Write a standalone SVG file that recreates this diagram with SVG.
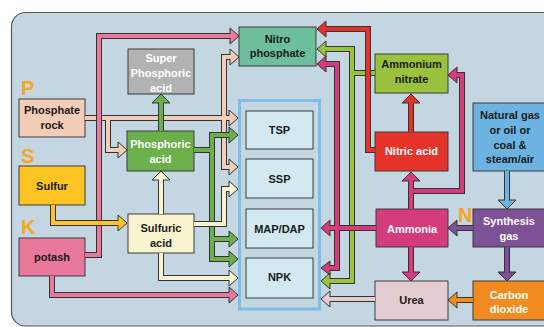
<svg xmlns="http://www.w3.org/2000/svg" xmlns:xlink="http://www.w3.org/1999/xlink" width="544" height="327" viewBox="0 0 544 327">
<style>
text{font-family:"Liberation Sans",Arial,sans-serif;font-weight:bold;font-size:11px;text-anchor:middle;fill:#1a1a1a}
text.w{fill:#ffffff}
text.lab{font-size:20px;fill:#f6a623;text-anchor:start}
.box{stroke:#3a3a3a;stroke-width:1}
.o{fill:none;stroke:#333;stroke-width:6;stroke-linejoin:miter}
.c{fill:none;stroke-width:4;stroke-linejoin:miter}
.h{stroke:#333;stroke-width:1;stroke-linejoin:miter}
</style>
<defs>
<path id="pk" d="M85,255 H99 V36 H234 M52,276 V295 H233"/>
<path id="pe" d="M85,118 H233 M108,118 V150 H122 M234,57 H224 V167 H233"/>
<path id="ye" d="M53,205 V223 H122"/>
<path id="gr" d="M161,131 V99 M194,150 H212 M233,135 H212 V259 H233 M212,239 H233"/>
<path id="cr" d="M161,214 V176 M194,224 H224 V189 H233 M161,253 V278 H233"/>
<path id="li" d="M375,73 H352 M322,49 H352 V281 H326"/>
<path id="rd" d="M411,132 V99 M375,150 H368 V29 H322"/>
<path id="mg" d="M411,209 V177 M411,191 H462 V75 H453 M411,247 V276 M376,228 H326 M322,64 H337 V268 H326"/>
<path id="ur" d="M375,299 H326"/>
<path id="bl" d="M507,171 V204"/>
<path id="pu" d="M473,228 H453 M507,247 V276"/>
<path id="or" d="M473,300 H453"/>
</defs>
<rect x="11.5" y="12.5" width="560" height="313.5" rx="14" fill="#c3d6e1" stroke="#5a5a5a" stroke-width="1.2"/>

<g id="label-P"><text class="lab" x="21" y="95">P</text></g>
<g id="label-S"><text class="lab" x="21" y="163">S</text></g>
<g id="label-K"><text class="lab" x="21" y="234">K</text></g>
<g id="label-N"><text class="lab" x="458" y="222">N</text></g>

<g id="phosphate-rock"><rect class="box" x="19" y="99" width="66" height="38" fill="#f3cdb7"/><text x="52" y="114">Phosphate</text><text x="52" y="128.5">rock</text></g>
<g id="sulfur"><rect class="box" x="19" y="166" width="66" height="39" fill="#fdc424"/><text x="52" y="190">Sulfur</text></g>
<g id="potash"><rect class="box" x="19" y="238" width="66" height="38" fill="#e9799b"/><text x="52" y="261">potash</text></g>
<g id="super-phosphoric-acid"><rect class="box" x="128" y="49" width="66" height="45" fill="#b2b2b2"/><text class="w" x="161" y="62">Super</text><text class="w" x="161" y="77">Phosphoric</text><text class="w" x="161" y="91.5">acid</text></g>
<g id="phosphoric-acid"><rect class="box" x="127" y="131" width="67" height="40" fill="#6bb04a"/><text class="w" x="160.5" y="148">Phosphoric</text><text class="w" x="160.5" y="163">acid</text></g>
<g id="sulfuric-acid"><rect class="box" x="128" y="214" width="66" height="39" fill="#f8f4cf"/><text x="161" y="232">Sulfuric</text><text x="161" y="247">acid</text></g>
<g id="nitro-phosphate"><rect class="box" x="239" y="27" width="77" height="39" fill="#6cbf9a"/><text x="277.5" y="43">Nitro</text><text x="277.5" y="57">phosphate</text></g>
<g id="ammonium-nitrate"><rect class="box" x="375" y="54" width="73" height="39" fill="#9ac23c"/><text x="411.5" y="68">Ammonium</text><text x="411.5" y="83">nitrate</text></g>
<g id="products"><rect x="239.5" y="100.5" width="80" height="208.5" fill="none" stroke="#7fbde6" stroke-width="3"/></g>
<g id="tsp"><rect class="box" x="246" y="111" width="67" height="38" fill="#d3e9f2"/><text x="279.5" y="134">TSP</text></g>
<g id="ssp"><rect class="box" x="246" y="159" width="67" height="39" fill="#d3e9f2"/><text x="279.5" y="183">SSP</text></g>
<g id="map-dap"><rect class="box" x="246" y="209" width="67" height="39" fill="#d3e9f2"/><text x="279.5" y="233">MAP/DAP</text></g>
<g id="npk"><rect class="box" x="246" y="258" width="67" height="40" fill="#d3e9f2"/><text x="279.5" y="281">NPK</text></g>
<g id="nitric-acid"><rect class="box" x="375" y="132" width="73" height="39" fill="#e5332a"/><text class="w" x="411.5" y="155">Nitric acid</text></g>
<g id="natural-gas"><rect class="box" x="473" y="103" width="76" height="68" fill="#6db3e2"/><text x="510" y="119">Natural gas</text><text x="510" y="133.5">or oil or</text><text x="510" y="148.5">coal &amp;</text><text x="510" y="163">steam/air</text></g>
<g id="ammonia"><rect class="box" x="376" y="209" width="72" height="38" fill="#d43c7b"/><text class="w" x="412" y="232.5">Ammonia</text></g>
<g id="synthesis-gas"><rect class="box" x="473" y="209" width="76" height="38" fill="#7d5196"/><text class="w" x="509" y="225">Synthesis</text><text class="w" x="509" y="240">gas</text></g>
<g id="urea"><rect class="box" x="375" y="281" width="73" height="39" fill="#e3cdd1"/><text x="411.5" y="304">Urea</text></g>
<g id="carbon-dioxide"><rect class="box" x="473" y="281" width="76" height="39" fill="#f18b20"/><text class="w" x="509" y="298.5">Carbon</text><text class="w" x="509" y="313">dioxide</text></g>

<g id="connectors">
<g fill="#f3cdb7">
<use xlink:href="#pe" class="o"/>
<polygon class="h" points="229,110 238,118 229,126"/><polygon class="h" points="118,142 127,150 118,158"/><polygon class="h" points="230,49 239,57 230,65"/><polygon class="h" points="229,159 238,167 229,175"/>
<use xlink:href="#pe" class="c" stroke="#f3cdb7"/>
</g>
<g fill="#e9799b">
<use xlink:href="#pk" class="o"/>
<polygon class="h" points="230,28 239,36 230,44"/><polygon class="h" points="229,287 238,295 229,303"/>
<use xlink:href="#pk" class="c" stroke="#e9799b"/>
</g>
<g fill="#fdc424">
<use xlink:href="#ye" class="o"/>
<polygon class="h" points="118,215 127,223 118,231"/>
<use xlink:href="#ye" class="c" stroke="#fdc424"/>
</g>
<g fill="#6bb04a">
<use xlink:href="#gr" class="o"/>
<polygon class="h" points="152,103 161,94 170,103"/><polygon class="h" points="229,127 238,135 229,143"/><polygon class="h" points="229,231 238,239 229,247"/><polygon class="h" points="229,251 238,259 229,267"/>
<use xlink:href="#gr" class="c" stroke="#6bb04a"/>
</g>
<g fill="#f8f4cf">
<use xlink:href="#cr" class="o"/>
<polygon class="h" points="152,180 161,171 170,180"/><polygon class="h" points="229,181 238,189 229,197"/><polygon class="h" points="229,270 238,278 229,286"/>
<use xlink:href="#cr" class="c" stroke="#f8f4cf"/>
</g>
<g fill="#9ac23c">
<use xlink:href="#li" class="o"/>
<polygon class="h" points="326,41 317,49 326,57"/><polygon class="h" points="330,273 321,281 330,289"/>
<use xlink:href="#li" class="c" stroke="#9ac23c"/>
</g>
<g fill="#e5332a">
<use xlink:href="#rd" class="o"/>
<polygon class="h" points="402,103 411,94 420,103"/><polygon class="h" points="326,21 317,29 326,37"/>
<use xlink:href="#rd" class="c" stroke="#e5332a"/>
</g>
<g fill="#d43c7b">
<use xlink:href="#mg" class="o"/>
<polygon class="h" points="402,181 411,172 420,181"/><polygon class="h" points="457,67 448,75 457,83"/><polygon class="h" points="402,272 411,281 420,272"/><polygon class="h" points="330,220 321,228 330,236"/><polygon class="h" points="326,56 317,64 326,72"/><polygon class="h" points="330,261 321,268 330,275"/>
<use xlink:href="#mg" class="c" stroke="#d43c7b"/>
</g>
<g fill="#e3cdd1">
<use xlink:href="#ur" class="o"/>
<polygon class="h" points="330,291 321,299 330,307"/>
<use xlink:href="#ur" class="c" stroke="#e3cdd1"/>
</g>
<g fill="#6db3e2">
<use xlink:href="#bl" class="o"/>
<polygon class="h" points="498,200 507,209 516,200"/>
<use xlink:href="#bl" class="c" stroke="#6db3e2"/>
</g>
<g fill="#7d5196">
<use xlink:href="#pu" class="o"/>
<polygon class="h" points="457,220 448,228 457,236"/><polygon class="h" points="498,272 507,281 516,272"/>
<use xlink:href="#pu" class="c" stroke="#7d5196"/>
</g>
<g fill="#f18b20">
<use xlink:href="#or" class="o"/>
<polygon class="h" points="457,292 448,300 457,308"/>
<use xlink:href="#or" class="c" stroke="#f18b20"/>
</g>
</g>
</svg>
